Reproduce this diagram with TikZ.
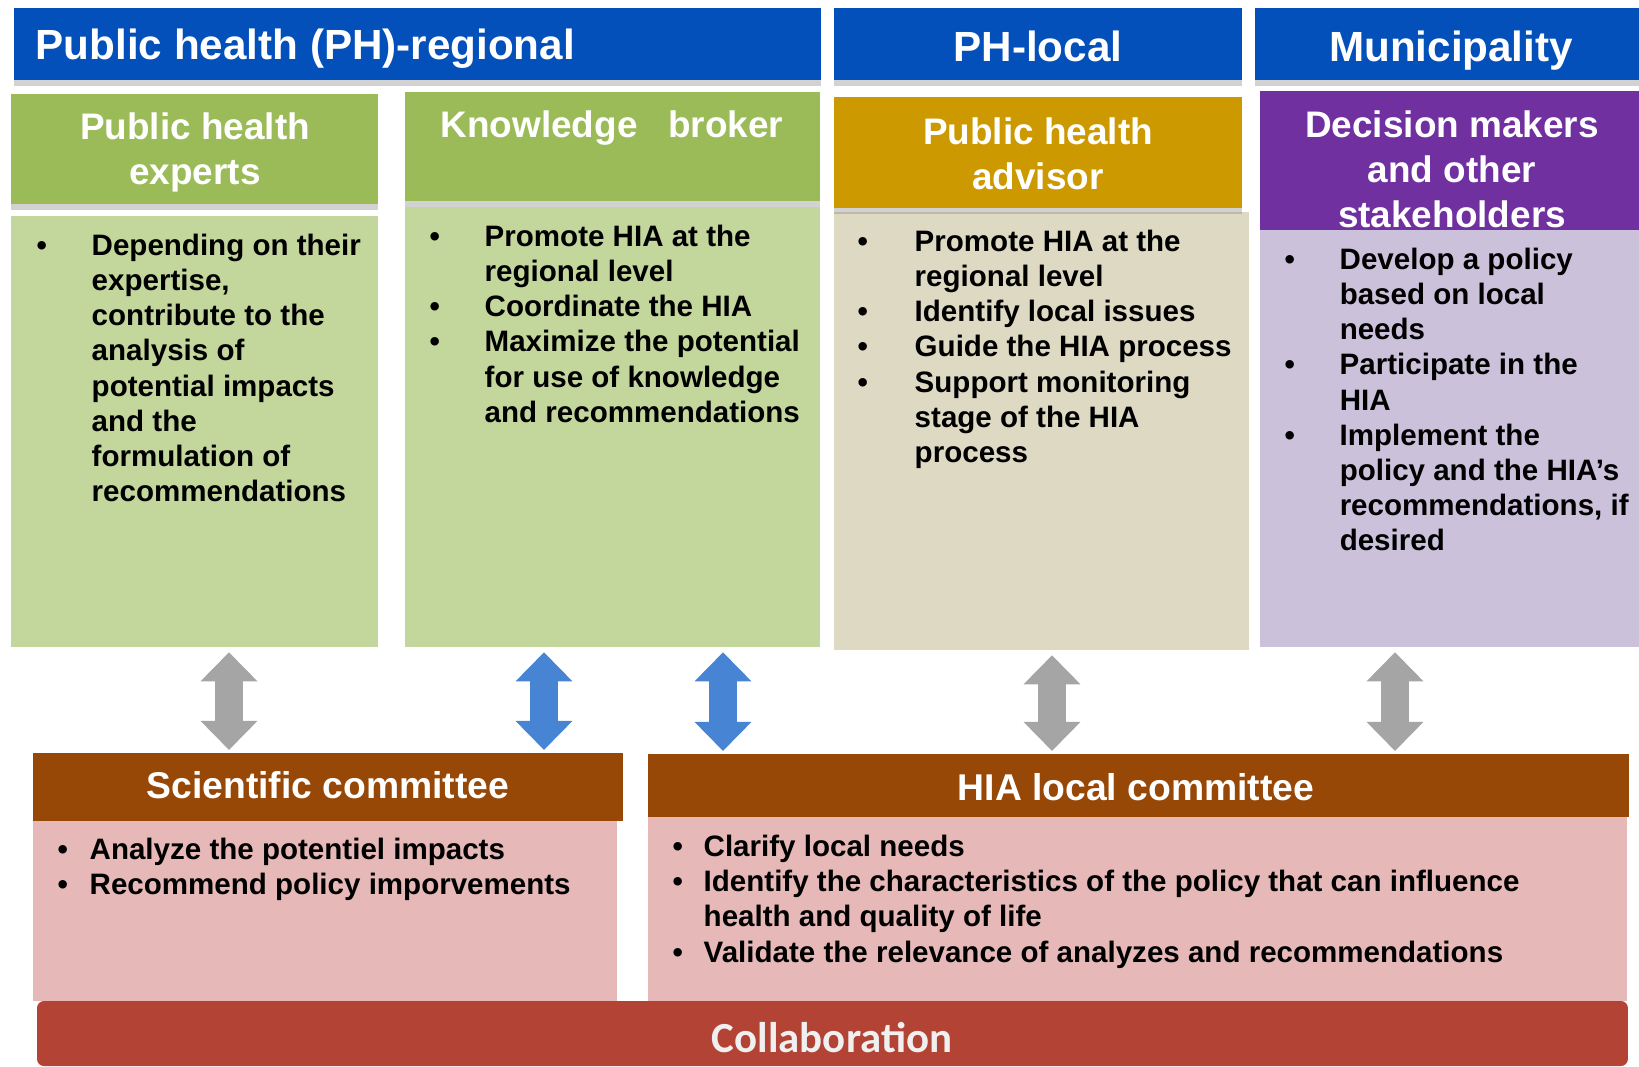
\documentclass[tikz,border=0pt]{standalone}
\usepackage{fontspec}
\setmainfont{Liberation Sans}
\newfontfamily\collabfont{Carlito}
\usetikzlibrary{arrows.meta,shadows}

\definecolor{barblue}{RGB}{3,80,187}
\definecolor{headgreen}{RGB}{155,187,89}
\definecolor{bodygreen}{RGB}{195,214,155}
\definecolor{headgold}{RGB}{204,153,0}
\definecolor{bodybeige}{RGB}{221,217,195}
\definecolor{headpurple}{RGB}{112,48,160}
\definecolor{bodylav}{RGB}{204,193,218}
\definecolor{headbrown}{RGB}{151,71,6}
\definecolor{bodypink}{RGB}{230,184,183}
\definecolor{collabred}{RGB}{178,67,53}
\definecolor{arrgray}{RGB}{165,165,165}
\definecolor{arrblue}{RGB}{72,132,212}

\newcommand{\bul}{\textbullet}

\tikzset{
  box/.style={anchor=north west, inner sep=0pt, outer sep=0pt},
  headbox/.style={box, drop shadow={shadow xshift=0pt, shadow yshift=-0.06cm, opacity=0.35}},
  barlabel/.style={text=white, inner sep=0pt, font=\fontsize{12}{14}\selectfont\bfseries},
  headlabel/.style={text=white, inner sep=0pt, align=center, font=\fontsize{10.5}{12.8}\selectfont\bfseries},
  bodylist/.style={anchor=base west, inner sep=0pt, font=\fontsize{8.4}{10}\selectfont\bfseries},
  link/.style={line width=0.28cm, shorten <=0.05cm, shorten >=0.03cm,
    {Triangle[width=0.55cm,length=0.29cm]}-{Triangle[width=0.55cm,length=0.29cm]}}
}

\begin{document}
\begin{tikzpicture}[x=0.01cm, y=-0.01cm]
\useasboundingbox[fill=white] (0,0) rectangle (1639,1067);

% top bars
\node[headbox, fill=barblue, minimum width=8.07cm, minimum height=0.72cm] (regbar) at (14,8) {};
\node[headbox, fill=barblue, minimum width=4.08cm, minimum height=0.72cm] (locbar) at (834,8) {};
\node[headbox, fill=barblue, minimum width=3.84cm, minimum height=0.72cm] (munbar) at (1255,8) {};
\node[barlabel, anchor=base west] (reglabel) at (35,60) {Public health (PH)-regional};
\node[barlabel, anchor=base] (loclabel) at (1038,61.5) {PH-local};
\node[barlabel, anchor=base] (munlabel) at (1451,62) {Municipality};

% role bodies
\node[box, fill=bodygreen, minimum width=3.67cm, minimum height=4.31cm] (expbody) at (11,216) {};
\node[box, fill=bodygreen, minimum width=4.15cm, minimum height=4.40cm] (kbbody) at (405,207) {};
\node[box, fill=bodybeige, minimum width=4.15cm, minimum height=4.38cm] (advbody) at (834,212) {};
\node[box, fill=bodylav, minimum width=3.79cm, minimum height=4.17cm] (decbody) at (1260,230) {};

% role headers
\node[headbox, fill=headgreen, minimum width=3.67cm, minimum height=1.10cm] (exphead) at (11,94) {};
\node[headbox, fill=headgreen, minimum width=4.15cm, minimum height=1.09cm] (kbhead) at (405,92) {};
\node[headbox, fill=headgold, minimum width=4.08cm, minimum height=1.11cm] (advhead) at (834,97) {};
\node[box, fill=headpurple, minimum width=3.79cm, minimum height=1.39cm] (dechead) at (1260,91) {};
\node[headlabel] (explabel) at (195,152.5) {Public health\\experts};
\node[headlabel] (kblabel) at (612,128) {Knowledge~~~broker};
\node[headlabel] (advlabel) at (1038,154) {Public health\\advisor};
\node[headlabel] (declabel) at (1452,169) {Decision makers\\and other\\stakeholders};

% role tasks
\node[bodylist] (exptext) at (36,255.5) {\begin{tabular}[t]{@{}p{0.55cm}@{}l@{}}
\bul & Depending on their\\
 & expertise,\\
 & contribute to the\\
 & analysis of\\
 & potential impacts\\
 & and the\\
 & formulation of\\
 & recommendations
\end{tabular}};
\node[bodylist] (kbtext) at (429,246.5) {\begin{tabular}[t]{@{}p{0.55cm}@{}l@{}}
\bul & Promote HIA at the\\
 & regional level\\
\bul & Coordinate the HIA\\
\bul & Maximize the potential\\
 & for use of knowledge\\
 & and recommendations
\end{tabular}};
\node[bodylist] (advtext) at (857,251.5) {\begin{tabular}[t]{@{}p{0.57cm}@{}l@{}}
\bul & Promote HIA at the\\
 & regional level\\
\bul & Identify local issues\\
\bul & Guide the HIA process\\
\bul & Support monitoring\\
 & stage of the HIA\\
 & process
\end{tabular}};
\node[bodylist] (dectext) at (1284,269.5) {\begin{tabular}[t]{@{}p{0.55cm}@{}l@{}}
\bul & Develop a policy\\
 & based on local\\
 & needs\\
\bul & Participate in the\\
 & HIA\\
\bul & Implement the\\
 & policy and the HIA’s\\
 & recommendations, if\\
 & desired
\end{tabular}};

% committees
\node[box, fill=bodypink, minimum width=5.84cm, minimum height=1.80cm] (scibody) at (33,821) {};
\node[box, fill=bodypink, minimum width=9.78cm, minimum height=1.84cm] (hiabody) at (648,817) {};
\node[box, fill=headbrown, minimum width=5.90cm, minimum height=0.68cm] (scihead) at (33,753) {};
\node[box, fill=headbrown, minimum width=9.80cm, minimum height=0.63cm] (hiahead) at (648,754) {};
\node[barlabel, anchor=base, font=\fontsize{10.6}{12}\selectfont\bfseries] (scilabel) at (328,798) {Scientific committee};
\node[barlabel, anchor=base, font=\fontsize{10.6}{12}\selectfont\bfseries] (hialabel) at (1136,800) {HIA local committee};
\node[bodylist] (scitext) at (57,859.5) {\begin{tabular}[t]{@{}p{0.32cm}@{}l@{}}
\bul & Analyze the potentiel impacts\\
\bul & Recommend policy imporvements
\end{tabular}};
\node[bodylist] (hiatext) at (672,856.5) {\begin{tabular}[t]{@{}p{0.31cm}@{}l@{}}
\bul & Clarify local needs\\
\bul & Identify the characteristics of the policy that can influence\\
 & health and quality of life\\
\bul & Validate the relevance of analyzes and recommendations
\end{tabular}};

% collaboration
\node[box, fill=collabred, rounded corners=2pt, minimum width=15.90cm, minimum height=0.65cm] (collab) at (37,1001) {};
\node[anchor=base, inner sep=0pt, text=white!94!black, font=\fontsize{12.2}{14}\selectfont\collabfont\bfseries] (collablabel) at (832,1052) {Collaboration};

% links between roles and committees
\foreach \x/\from/\to/\col in {229/expbody/scihead/arrgray, 544/kbbody/scihead/arrblue,
    723/kbbody/hiahead/arrblue, 1052/advbody/hiahead/arrgray, 1395/decbody/hiahead/arrgray} {%
  \coordinate (c\x) at (\x,700);
  \draw[link, draw=\col, fill=\col] (\from.south -| c\x) -- (\to.north -| c\x);
}
\end{tikzpicture}
\end{document}
